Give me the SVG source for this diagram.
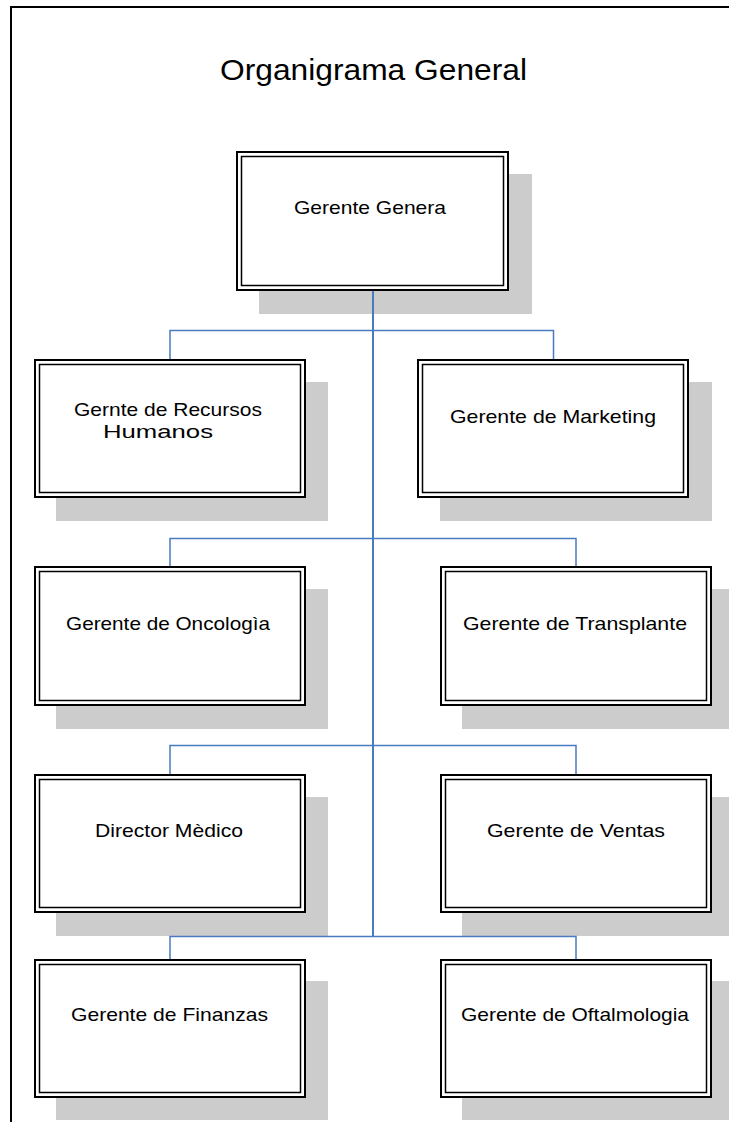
<svg xmlns="http://www.w3.org/2000/svg" width="729" height="1122" viewBox="0 0 729 1122">
  <style>
    .frame { fill: none; stroke: #000; stroke-width: 2; }
    .shadow { fill: #cccccc; stroke: none; }
    .outer { fill: #fff; stroke: #000; stroke-width: 2; }
    .inner { fill: none; stroke: #000; stroke-width: 1.5; }
    .label { font-family: "Liberation Sans", Arial, sans-serif; font-size: 19px; fill: #000; }
    .title { font-family: "Liberation Sans", Arial, sans-serif; font-size: 30px; fill: #000; }
    .link { fill: none; stroke: #4a7bc0; stroke-width: 1.5; }
    .trunk { fill: none; stroke: #4a7bc0; stroke-width: 2; }
  </style>

  <rect width="729" height="1122" fill="#fff"/>

  <!-- page border (left and top edges) -->
  <path class="frame" d="M11 1122 V7 H729"/>

  <text class="title" x="220" y="80" textLength="307" lengthAdjust="spacingAndGlyphs">Organigrama General</text>

  <g id="gerente-general">
    <rect class="shadow" x="259" y="174" width="273" height="140"/>
    <rect class="outer" x="237" y="152" width="271" height="138"/>
    <rect class="inner" x="241.5" y="156.5" width="262" height="129"/>
    <text class="label" x="294" y="214" textLength="152" lengthAdjust="spacingAndGlyphs">Gerente Genera</text>
  </g>

  <g id="recursos-humanos">
    <rect class="shadow" x="56" y="382" width="272" height="139"/>
    <rect class="outer" x="35" y="360" width="270" height="137"/>
    <rect class="inner" x="39.5" y="364.5" width="261" height="128"/>
    <text class="label" x="74" y="416" textLength="188" lengthAdjust="spacingAndGlyphs">Gernte de Recursos</text>
    <text class="label" x="103" y="438" textLength="110" lengthAdjust="spacingAndGlyphs">Humanos</text>
  </g>

  <g id="marketing">
    <rect class="shadow" x="440" y="382" width="272" height="139"/>
    <rect class="outer" x="418" y="360" width="270" height="137"/>
    <rect class="inner" x="422.5" y="364.5" width="261" height="128"/>
    <text class="label" x="450" y="423" textLength="206" lengthAdjust="spacingAndGlyphs">Gerente de Marketing</text>
  </g>

  <g id="oncologia">
    <rect class="shadow" x="56" y="589" width="272" height="140"/>
    <rect class="outer" x="35" y="567" width="270" height="138"/>
    <rect class="inner" x="39.5" y="571.5" width="261" height="129"/>
    <text class="label" x="66" y="630" textLength="204" lengthAdjust="spacingAndGlyphs">Gerente de Oncologìa</text>
  </g>

  <g id="transplante">
    <rect class="shadow" x="462" y="589" width="272" height="140"/>
    <rect class="outer" x="441" y="567" width="270" height="138"/>
    <rect class="inner" x="445.5" y="571.5" width="261" height="129"/>
    <text class="label" x="463" y="630" textLength="224" lengthAdjust="spacingAndGlyphs">Gerente de Transplante</text>
  </g>

  <g id="director-medico">
    <rect class="shadow" x="56" y="797" width="272" height="139"/>
    <rect class="outer" x="35" y="775" width="270" height="137"/>
    <rect class="inner" x="39.5" y="779.5" width="261" height="128"/>
    <text class="label" x="95" y="837" textLength="148" lengthAdjust="spacingAndGlyphs">Director Mèdico</text>
  </g>

  <g id="ventas">
    <rect class="shadow" x="462" y="797" width="272" height="139"/>
    <rect class="outer" x="441" y="775" width="270" height="137"/>
    <rect class="inner" x="445.5" y="779.5" width="261" height="128"/>
    <text class="label" x="487" y="837" textLength="178" lengthAdjust="spacingAndGlyphs">Gerente de Ventas</text>
  </g>

  <g id="finanzas">
    <rect class="shadow" x="56" y="981" width="272" height="139"/>
    <rect class="outer" x="35" y="960" width="270" height="137"/>
    <rect class="inner" x="39.5" y="964.5" width="261" height="128"/>
    <text class="label" x="71" y="1021" textLength="197" lengthAdjust="spacingAndGlyphs">Gerente de Finanzas</text>
  </g>

  <g id="oftalmologia">
    <rect class="shadow" x="462" y="981" width="272" height="139"/>
    <rect class="outer" x="441" y="960" width="270" height="137"/>
    <rect class="inner" x="445.5" y="964.5" width="261" height="128"/>
    <text class="label" x="461" y="1021" textLength="228" lengthAdjust="spacingAndGlyphs">Gerente de Oftalmologia</text>
  </g>

  <g id="connectors">
    <path class="trunk" d="M373 291 V937"/>
    <path class="link" d="M170 359 V330.5 H553.5 V359"/>
    <path class="link" d="M170 566 V538.5 H576 V566"/>
    <path class="link" d="M170 774 V745.5 H576 V774"/>
    <path class="link" d="M170 959 V936.5 H576 V959"/>
  </g>
</svg>
